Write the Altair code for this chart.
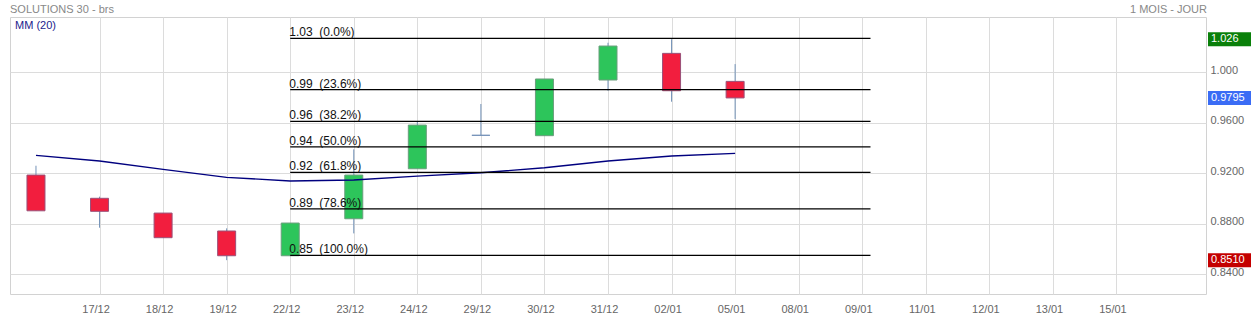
import json
import altair as alt
import pandas as pd

FONT = "Liberation Sans"

# ---- data ----
slots = list(range(12))
opens = [0.9184, 0.9000, 0.8883, 0.8741, 0.8545, 0.8838, 0.9234, 0.9499, 0.9496, 0.9937, 1.0148, 0.9926]
highs = [0.9258, 0.9013, 0.8883, 0.8762, 0.8804, 0.9388, 0.9612, 0.9747, 0.9945, 1.0232, 1.0260, 1.0063]
lows = [0.8901, 0.8767, 0.8688, 0.8510, 0.8545, 0.8722, 0.9234, 0.9499, 0.9496, 0.9852, 0.9765, 0.9628]
closes = [0.8901, 0.8897, 0.8688, 0.8545, 0.8804, 0.9184, 0.9580, 0.9499, 0.9945, 1.0206, 0.9852, 0.9795]
ma20 = [0.9340, 0.9295, 0.9229, 0.9166, 0.9137, 0.9145, 0.9176, 0.9202, 0.9242, 0.9295, 0.9335, 0.9356]

x_label_slots = list(range(1, 18))
x_labels = ["17/12", "18/12", "19/12", "22/12", "23/12", "24/12", "29/12", "30/12",
            "31/12", "02/01", "05/01", "08/01", "09/01", "11/01", "12/01", "13/01", "15/01"]

y_tick_values = [0.84, 0.88, 0.92, 0.96, 1.0]
y_tick_labels = ["0.8400", "0.8800", "0.9200", "0.9600", "1.000"]

fib_levels = [1.0267, 0.9861, 0.9610, 0.9408, 0.9205, 0.8916, 0.8548]
fib_labels = ["1.03  (0.0%)", "0.99  (23.6%)", "0.96  (38.2%)", "0.94  (50.0%)",
              "0.92  (61.8%)", "0.89  (78.6%)", "0.85  (100.0%)"]
fib_start = 4
fib_end = 13.13

tag_values = [1.026, 0.9795, 0.851]
tag_texts = ["1.026", "0.9795", "0.8510"]
tag_kind = ["high", "last", "low"]

# ---- tables ----
def direction(o, c):
    if abs(c - o) < 1e-9:
        return "flat"
    return "up" if c > o else "down"

candles = pd.DataFrame({
    "slot": slots, "open": opens, "high": highs, "low": lows, "close": closes,
    "dir": [direction(o, c) for o, c in zip(opens, closes)],
})
ma_df = pd.DataFrame({"slot": slots, "ma": ma20})
fib_df = pd.DataFrame({
    "level": fib_levels,
    "label": [s.replace(" ", "\u00a0") for s in fib_labels],
    "start": [fib_start] * len(fib_levels),
    "end": [fib_end] * len(fib_levels),
})
tag_df = pd.DataFrame({"value": tag_values, "text": tag_texts, "kind": tag_kind})

W, H = 1196, 277
xs = alt.Scale(domain=[-0.33, 18.33], nice=False, zero=False)
ys = alt.Scale(domain=[0.8242, 1.0436], nice=False, zero=False)

x_expr = json.dumps(x_labels) + "[datum.value - 1]"
y_map = "{" + ",".join("'%.2f':'%s'" % (v, l) for v, l in zip(y_tick_values, y_tick_labels)) + "}"
y_expr = y_map + "[format(datum.value, '.2f')]"

x_axis = alt.Axis(values=x_label_slots, labelExpr=x_expr, grid=True, gridColor="#dcdcdc",
                  gridWidth=1, ticks=False, domain=False, labelColor="#666666",
                  labelFontSize=11, labelFont=FONT, labelPadding=9, title=None,
                  labelOffset=-4)
y_axis = alt.Axis(orient="right", values=y_tick_values, labelExpr=y_expr, grid=True,
                  gridColor="#dcdcdc", gridWidth=1, ticks=False, domain=False,
                  labelColor="#666666", labelFontSize=11, labelFont=FONT,
                  labelPadding=4, labelOffset=-2, title=None, labelAlign="left",
                  labelBaseline="middle")


def X(field):
    return alt.X(field, type="quantitative", scale=xs, axis=x_axis)


def Y(field):
    return alt.Y(field, type="quantitative", scale=ys, axis=y_axis)


base = alt.Chart(candles)

wicks = base.mark_rule(color="#7392b8", strokeWidth=1).encode(
    x=X("slot"), y=Y("low"), y2="high",
)

bodies = base.mark_bar(size=18, strokeWidth=1, opacity=1).encode(
    x=X("slot"), y=Y("open"), y2="close",
    fill=alt.Fill("dir:N", scale=alt.Scale(domain=["up", "down", "flat"],
                                           range=["#2dc55b", "#f21e3e", "#7392b8"]), legend=None),
    stroke=alt.Stroke("dir:N", scale=alt.Scale(domain=["up", "down", "flat"],
                                               range=["#6a9e7c", "#9a5078", "#7392b8"]), legend=None),
)

ma_line = alt.Chart(ma_df).mark_line(color="#00007f", strokeWidth=1.4).encode(
    x=X("slot"), y=Y("ma"),
)

fib_rules = alt.Chart(fib_df).mark_rule(color="#000000", strokeWidth=1.3).encode(
    x=X("start"), x2="end", y=Y("level"),
)

fib_text = alt.Chart(fib_df).mark_text(align="left", baseline="alphabetic", dx=-1, dy=-2,
                                       fontSize=12, font=FONT, color="#111111").encode(
    x=X("start"), y=Y("level"), text="label:N",
)

tags = alt.Chart(tag_df).mark_tick(orient="horizontal", thickness=14, size=43, opacity=1).encode(
    x=alt.value(1219.5),
    y=Y("value"),
    color=alt.Color("kind:N", scale=alt.Scale(domain=["high", "last", "low"],
                                              range=["#0a800a", "#3a6cf5", "#c40000"]), legend=None),
)

tag_text = alt.Chart(tag_df).mark_text(align="left", baseline="middle", fontSize=11,
                                       font=FONT, color="white").encode(
    x=alt.value(1201), y=Y("value"), text="text:N",
)

one = alt.Data(values=[{}])
title_left = alt.Chart(one).mark_text(align="left", baseline="alphabetic", fontSize=11,
                                      font=FONT, color="#888888").encode(
    x=alt.value(0), y=alt.value(-4), text=alt.value("SOLUTIONS 30 - brs"))
title_right = alt.Chart(one).mark_text(align="right", baseline="alphabetic", fontSize=11,
                                       font=FONT, color="#888888").encode(
    x=alt.value(1197), y=alt.value(-4), text=alt.value("1 MOIS - JOUR"))
mm_label = alt.Chart(one).mark_text(align="left", baseline="alphabetic", fontSize=11,
                                    font=FONT, color="#1c1c8c").encode(
    x=alt.value(5), y=alt.value(12), text=alt.value("MM (20)"))

chart = alt.layer(
    wicks, bodies, ma_line, fib_rules, fib_text, tags, tag_text,
    title_left, title_right, mm_label,
).properties(
    width=W, height=H,
    autosize=alt.AutoSizeParams(type="none"),
    padding={"left": 10, "top": 17, "right": 45, "bottom": 24},
    background="white",
).configure_view(stroke="#d2d2d2", strokeWidth=1)

chart.save("out.html", embed_options={"renderer": "svg", "actions": False})
